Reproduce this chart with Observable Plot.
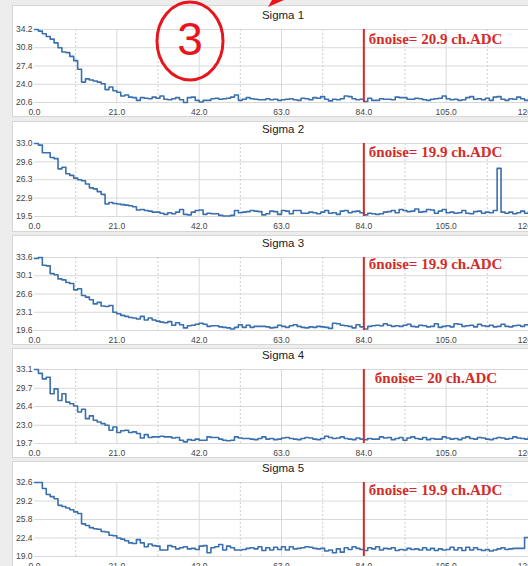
<!DOCTYPE html>
<html>
<head>
<meta charset="utf-8">
<script src="https://cdn.jsdelivr.net/npm/d3@7"></script>
<script src="https://cdn.jsdelivr.net/npm/@observablehq/plot@0.6"></script>
<style>
  html, body { margin: 0; padding: 0; width: 528px; height: 566px; overflow: hidden; background: #ededed; }
  #wrap { position: relative; width: 528px; height: 566px; overflow: hidden; }
  .panel { position: absolute; left: 12px; width: 600px; background: #fff; border: 1px solid #d6d6d6; box-sizing: border-box; }
  .title { position: absolute; left: 0; width: 566px; text-align: center; font: 11.5px "Liberation Sans", Arial, sans-serif; color: #222; line-height: 14px; }
  .chart { position: absolute; left: 0; width: 600px; }
  #marker { position: absolute; left: 0; top: 0; }
</style>
</head>
<body>
<div id="wrap"></div>
<script>
// Shared x axis: sample index
const xTicks = [0, 21, 42, 63, 84, 105, 126];
const xMinorTicks = [10.5, 31.5, 52.5, 73.5, 94.5, 115.5];
const markerX = 84;

const panelTitles = ["Sigma 1", "Sigma 2", "Sigma 3", "Sigma 4", "Sigma 5"];
const noiseValues = [20.9, 19.9, 19.9, 20, 19.9];

const yTicks1 = [20.6, 24.0, 27.4, 30.8, 34.2];
const yTicks2 = [19.5, 22.9, 26.3, 29.6, 33.0];
const yTicks3 = [19.6, 23.1, 26.6, 30.1, 33.6];
const yTicks4 = [19.7, 23.0, 26.4, 29.7, 33.1];
const yTicks5 = [19.0, 22.4, 25.8, 29.2, 32.6];

const sigma1 = [
  34.2, 33.9, 33.4, 32.9, 32.4, 31.7, 30.8, 30.0, 29.9, 29.2, 28.4, 26.8, 24.4, 25.0, 24.8, 24.6,
  24.4, 24.1, 23.0, 23.5, 22.8, 22.5, 21.8, 22.0, 21.6, 21.5, 21.0, 21.5, 21.4, 21.3, 21.6, 21.4,
  21.8, 21.2, 21.1, 21.3, 21.5, 21.1, 20.6, 21.5, 21.6, 21.0, 20.7, 21.0, 21.0, 21.3, 21.4, 21.2,
  21.3, 21.4, 21.6, 22.0, 21.0, 21.2, 21.5, 21.3, 21.2, 21.1, 21.1, 21.3, 21.1, 21.2, 21.0, 21.1,
  21.2, 21.3, 21.1, 21.0, 21.4, 21.3, 21.1, 21.5, 21.4, 21.7, 21.2, 20.9, 21.2, 21.1, 21.3, 21.8,
  21.7, 21.3, 21.1, 21.2, 20.8, 21.4, 21.0, 21.0, 21.3, 21.2, 21.2, 21.1, 21.6, 21.5, 21.5, 21.2,
  21.2, 21.4, 21.3, 21.1, 21.0, 21.2, 21.3, 21.4, 21.8, 21.3, 21.1, 21.2, 21.0, 21.1, 21.5, 21.7,
  21.2, 21.3, 21.1, 21.4, 21.0, 21.6, 21.7, 21.2, 21.0, 21.3, 21.2, 21.6, 21.3, 21.0, 21.2, 21.3,
  21.1
];
const sigma2 = [
  33.0, 32.7, 31.3, 31.3, 30.4, 30.2, 28.3, 28.6, 27.4, 27.1, 26.6, 26.3, 26.1, 25.5, 24.8, 24.6,
  24.1, 23.6, 21.8, 22.1, 21.9, 21.8, 21.7, 21.6, 21.5, 21.3, 20.7, 20.8, 20.6, 20.5, 20.3, 20.3,
  20.1, 19.9, 20.2, 20.0, 20.3, 20.8, 19.9, 19.8, 20.3, 20.6, 20.7, 19.9, 20.1, 20.0, 20.0, 19.7,
  19.6, 19.6, 19.7, 20.6, 20.2, 20.3, 20.4, 20.6, 20.5, 20.4, 19.8, 20.0, 20.5, 20.4, 19.9, 20.6,
  20.5, 20.0, 20.6, 20.6, 20.1, 20.1, 20.3, 20.2, 20.0, 20.3, 20.6, 20.1, 20.2, 19.9, 20.5, 20.6,
  20.2, 20.4, 20.5, 20.2, 19.8, 20.1, 20.0, 19.9, 20.0, 20.3, 20.4, 20.6, 20.2, 20.8, 20.6, 20.4,
  20.5, 20.9, 20.3, 20.4, 20.8, 20.7, 20.1, 20.5, 20.8, 20.2, 20.3, 20.1, 20.2, 20.6, 20.1, 20.0,
  20.4, 20.5, 20.1, 20.3, 20.2, 20.6, 28.4, 20.3, 20.1, 20.3, 20.0, 20.2, 20.5, 20.1, 20.4, 20.2,
  20.3
];
const sigma3 = [
  33.4, 33.6, 32.1, 32.0, 30.5, 30.3, 29.5, 29.3, 28.8, 28.6, 27.4, 27.6, 26.3, 26.0, 25.5, 24.7,
  25.0, 24.3, 24.2, 24.4, 23.1, 22.8, 22.5, 22.3, 22.1, 22.0, 21.8, 22.3, 21.6, 22.0, 21.6, 21.4,
  21.2, 21.1, 21.3, 20.6, 21.1, 20.7, 20.1, 20.5, 20.6, 20.8, 21.0, 20.8, 20.4, 20.5, 20.5, 20.3,
  20.2, 20.1, 19.9, 20.2, 20.7, 20.2, 20.6, 20.2, 20.4, 20.4, 20.4, 20.3, 20.1, 20.2, 20.6, 20.4,
  20.2, 20.5, 20.7, 20.4, 20.2, 20.1, 20.3, 20.2, 20.4, 20.3, 20.2, 20.0, 21.0, 20.9, 20.6, 20.5,
  20.4, 20.1, 20.7, 20.3, 19.9, 20.4, 20.5, 20.6, 20.5, 20.9, 20.6, 20.4, 20.5, 20.4, 20.6, 20.8,
  20.4, 20.3, 20.6, 20.5, 20.3, 20.4, 20.9, 20.2, 20.4, 20.5, 20.3, 20.9, 20.8, 20.4, 20.5, 20.6,
  20.3, 20.8, 20.5, 20.4, 20.6, 20.3, 20.4, 20.8, 20.4, 20.3, 20.5, 20.6, 20.4, 20.7, 20.5, 20.4,
  20.5
];
const sigma4 = [
  33.1, 32.4, 31.4, 31.7, 28.7, 29.6, 27.5, 28.7, 27.2, 26.9, 26.5, 25.4, 25.9, 24.2, 24.7, 23.9,
  23.6, 23.3, 23.0, 22.1, 22.7, 21.7, 22.0, 22.1, 21.7, 21.8, 21.5, 20.7, 21.3, 20.8, 20.9, 20.9,
  21.0, 20.9, 20.9, 20.7, 20.8, 20.3, 20.0, 20.4, 20.3, 20.5, 20.3, 20.3, 20.9, 20.8, 20.8, 20.5,
  20.3, 20.2, 20.3, 20.9, 20.7, 20.6, 20.6, 20.5, 20.4, 20.6, 20.9, 20.5, 20.6, 20.4, 20.5, 20.7,
  20.8, 20.6, 20.5, 20.4, 20.6, 20.8, 20.7, 20.5, 20.4, 20.6, 21.0, 20.8, 20.6, 20.7, 20.9, 20.6,
  20.5, 20.4, 20.7, 20.5, 20.4, 20.6, 20.5, 20.5, 20.9, 20.7, 20.8, 20.4, 20.6, 20.8, 20.3, 20.7,
  20.9, 20.6, 20.5, 20.8, 20.4, 20.6, 20.5, 20.5, 20.9, 20.7, 20.5, 20.6, 20.4, 20.7, 20.9, 20.6,
  20.5, 20.8, 20.7, 20.5, 20.4, 20.6, 20.8, 20.7, 20.5, 20.6, 20.9, 20.7, 20.6, 20.5, 20.9, 20.6,
  20.7
];
const sigma5 = [
  32.6, 32.6, 31.5, 30.4, 30.0, 29.6, 28.4, 28.2, 27.9, 27.6, 27.2, 26.9, 25.0, 24.7, 24.3, 24.1,
  24.0, 23.6, 23.5, 22.9, 22.8, 22.4, 22.2, 21.9, 21.5, 21.4, 22.1, 21.5, 20.8, 21.3, 21.0, 20.9,
  20.2, 20.2, 21.0, 20.8, 20.4, 20.6, 20.8, 20.4, 20.5, 20.3, 20.9, 21.0, 19.7, 20.6, 20.8, 21.2,
  20.2, 20.9, 20.6, 20.2, 20.2, 20.3, 20.5, 20.6, 20.4, 20.8, 20.1, 20.6, 20.2, 20.7, 20.3, 20.8,
  20.2, 20.8, 20.4, 20.5, 20.6, 20.8, 20.7, 20.5, 20.4, 20.5, 20.0, 20.2, 19.7, 20.4, 19.8, 20.6,
  20.3, 20.8, 20.5, 20.3, 20.1, 20.6, 20.4, 20.8, 20.2, 20.5, 20.4, 20.6, 20.1, 20.3, 20.2, 20.5,
  20.3, 20.4, 20.2, 20.6, 20.2, 20.5, 20.1, 20.4, 20.2, 20.3, 20.7, 20.2, 20.6, 20.1, 20.7, 20.2,
  20.6, 20.3, 20.1, 20.3, 20.0, 20.2, 20.4, 20.6, 20.3, 20.4, 20.5, 20.5, 20.5, 22.5, 22.5, 22.5,
  22.5
];

const series = [sigma1, sigma2, sigma3, sigma4, sigma5];
const yTickSets = [yTicks1, yTicks2, yTicks3, yTicks4, yTicks5];

// Page layout of the five stacked panels
const boxTops = [5, 121, 235, 348, 461];
const boxHeights = [112, 111, 110, 110, 120];
const plotTops = [29, 143, 257, 369, 482];
const plotHeights = [73, 73, 73, 74, 74];
const labelDx = [5, 5, 5, 11, 5];
const labelDy = [10, 9, 7, 9, 8];

const lineColor = "#3a6fae";
const red = "#d42a2a";
const tickFont = "'Liberation Sans', Arial, sans-serif";
const noteFont = "'Liberation Serif', 'Times New Roman', serif";

const wrap = document.getElementById("wrap");

series.forEach((values, i) => {
  const box = document.createElement("div");
  box.className = "panel";
  box.style.top = boxTops[i] + "px";
  box.style.height = boxHeights[i] + "px";
  wrap.appendChild(box);

  const title = document.createElement("div");
  title.className = "title";
  title.style.top = (plotTops[i] - 21) + "px";
  title.textContent = panelTitles[i];
  wrap.appendChild(title);

  const ticks = yTickSets[i];
  const rows = values.map((v, x) => ({x, v}));
  const mt = 20, mb = 18;

  const chart = Plot.plot({
    width: 560,
    height: mt + plotHeights[i] + mb,
    marginTop: mt,
    marginBottom: mb,
    marginLeft: 34,
    marginRight: 32,
    style: {background: "transparent", maxWidth: "none", overflow: "visible"},
    x: {domain: [0, 126], label: null},
    y: {domain: [ticks[0], ticks[ticks.length - 1]], label: null},
    marks: [
      Plot.gridY(ticks, {stroke: "#d9d9d9", strokeOpacity: 1}),
      Plot.gridX(xTicks.slice(1), {stroke: "#d9d9d9", strokeOpacity: 1}),
      Plot.ruleX(xMinorTicks, {stroke: "#cfcfcf", strokeDasharray: "2,2"}),
      Plot.axisY(ticks, {
        tickSize: 0, tickPadding: 2, fontSize: 8.5, fill: "#444", fontFamily: tickFont,
        tickFormat: (d) => d.toFixed(1)
      }),
      Plot.axisX(xTicks, {
        tickSize: 0, tickPadding: 6, fontSize: 8.5, fill: "#444", fontFamily: tickFont,
        tickFormat: (d) => d.toFixed(1)
      }),
      Plot.line(rows, {x: "x", y: "v", curve: "step-after", stroke: lineColor, strokeWidth: 1.6}),
      Plot.ruleX([markerX], {stroke: red, strokeWidth: 2}),
      Plot.text([{x: markerX, label: "бnoise= " + noiseValues[i] + " ch.ADC"}], {
        x: "x", text: "label", frameAnchor: "top", textAnchor: "start", lineAnchor: "middle",
        dx: labelDx[i], dy: labelDy[i], fill: red, fontSize: 15, fontWeight: "bold",
        fontFamily: noteFont
      })
    ]
  });

  const holder = document.createElement("div");
  holder.className = "chart";
  holder.style.top = (plotTops[i] - mt) + "px";
  holder.appendChild(chart);
  wrap.appendChild(holder);
});

// Hand-drawn callout: circled figure number and arrow tip
const svg = d3.select("#wrap").append("svg")
  .attr("id", "marker").attr("width", 528).attr("height", 100);
svg.append("ellipse")
  .attr("cx", 190).attr("cy", 41).attr("rx", 33).attr("ry", 39)
  .attr("fill", "none").attr("stroke", "#e8151c").attr("stroke-width", 3);
svg.append("text")
  .attr("x", 190).attr("y", 39)
  .attr("text-anchor", "middle").attr("dominant-baseline", "central")
  .attr("font-family", "'Liberation Sans', Arial, sans-serif")
  .attr("font-size", 46).attr("fill", "#e8151c")
  .text("3");
svg.append("polygon")
  .attr("points", "268,7 272,0 284,0")
  .attr("fill", "#e8151c");
</script>
</body>
</html>
